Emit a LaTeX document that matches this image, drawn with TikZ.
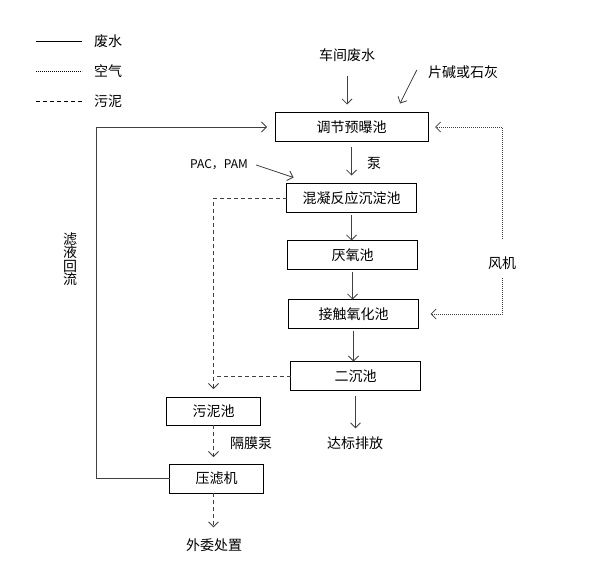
\documentclass[tikz,border=0pt]{standalone}
\usepackage{fontspec}
\newfontfamily\cjk{Noto Sans CJK SC}
\usepackage{tikz}
\usetikzlibrary{arrows.meta}
\usetikzlibrary{positioning}
\tikzset{
  chi/.style={draw, line width=0.8pt, minimum width=#1, minimum height=29pt, inner sep=0pt, outer sep=0pt, font=\cjk\fontsize{14}{16}\selectfont},
  chi/.default=130pt,
  wz/.style={inner sep=2pt, font=\cjk\fontsize{14}{16}\selectfont},
  shui/.style={-{Straight Barb[length=5pt,width=10pt]}, line width=0.8pt, draw=black!75},
  qi/.style={shui, dash pattern=on 0.8pt off 1.2pt},
  ni/.style={shui, dash pattern=on 4pt off 3pt},
}

\begin{document}
\begin{tikzpicture}[x=1pt, y=-1pt]
  \useasboundingbox (0,0) rectangle (593,570);
  \node[chi=153pt] (tj) at (351.5,127) {调节预曝池};
  \node[chi, below=42pt of tj] (hn) {混凝反应沉淀池};
  \node[chi, below=28pt of hn, xshift=1pt] (yy) {厌氧池};
  \node[chi, below=30pt of yy, xshift=1pt] (jc) {接触氧化池};
  \node[chi, below=33pt of jc, xshift=2pt] (ec) {二沉池};
  \node[chi=94pt, minimum height=28pt] (wn) at (213.5,411) {污泥池};
  \node[chi=94pt, below=39pt of wn, xshift=3pt] (ylj) {压滤机};
  \node[wz] (cj) at (347,55) {车间废水};
  \node[wz] (jj) at (463,72) {片碱或石灰};
  \node[wz, font=\cjk\fontsize{12}{14}\selectfont] (pac) at (219,165) {PAC，PAM};
  \node[wz] (beng) at (374,163) {泵};
  \node[wz] (db) at (355,443) {达标排放};
  \node[wz] (gm) at (251,443) {隔膜泵};
  \node[wz] (ww) at (214,545) {外委处置};
  \node[wz] (fj) at (502,263) {风机};
  \node[wz, align=center, font=\cjk\fontsize{14}{13.5}\selectfont] (lh) at (70,259) {滤\\液\\回\\流};
  \node[wz, anchor=west] (lg1) at (92,41) {废水};
  \node[wz, anchor=west] (lg2) at (92,71) {空气};
  \node[wz, anchor=west] (lg3) at (92,101) {污泥};
  \draw[shui, -, draw=black] ([xshift=-56pt]lg1.west) -- ([xshift=-10pt]lg1.west);
  \draw[qi, -, draw=black] ([xshift=-56pt]lg2.west) -- ([xshift=-10pt]lg2.west);
  \draw[ni, -, draw=black] ([xshift=-56pt]lg3.west) -- ([xshift=-10pt]lg3.west);
  \draw[shui, shorten <=12pt, shorten >=8pt] (cj.south) -- (cj.south |- tj.north);
  \draw[shui] ([xshift=-9pt,yshift=2pt]jj.west) -- ([xshift=-28pt,yshift=9pt]tj.north east);
  \draw[shui] ([xshift=6pt]pac.east) -- ([xshift=7pt,yshift=6pt]hn.north west);
  \draw[shui, shorten <=5pt, shorten >=8pt] (tj.south) -- (hn.north);
  \foreach \a/\b in {hn/yy,yy/jc,jc/ec}
    \draw[shui, shorten <=2pt] (\a.south) -- (\a.south |- \b.north);
  \draw[shui, shorten <=5pt, shorten >=6pt] (ec.south) -- (ec.south |- db.north);
  \draw[ni, shorten >=8pt] (hn.west) -| (wn.north);
  \draw[ni, -] (ec.west) -- (ec.west -| wn.north);
  \draw[ni, shorten >=7pt] (wn.south) -- (wn.south |- ylj.north);
  \draw[ni, shorten >=9pt] (wn.south |- ylj.south) -- (wn.south |- ww.north);
  \draw[shui, shorten >=8pt] (ylj.west) -- ++(-73,0) |- (tj.west);
  \draw[qi, shorten <=16pt, shorten >=7pt] (fj.north) |- (tj.east);
  \draw[qi, shorten <=6pt, shorten >=12pt] (fj.south) |- (jc.east);
\end{tikzpicture}
\end{document}
